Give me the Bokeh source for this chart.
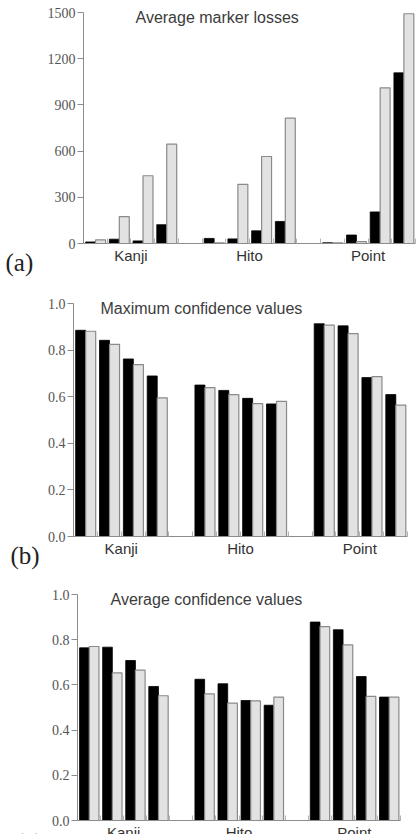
from bokeh.plotting import figure
from bokeh.layouts import column
from bokeh.models import Range1d, FixedTicker, Label, ColumnDataSource
from bokeh.embed import file_html
from bokeh.resources import INLINE

# ---- data -------------------------------------------------------------
groups = ["Kanji", "Hito", "Point"]
pairs_per_group = 4

# (a) average marker losses, four condition pairs per gesture group
loss_black = [10, 28, 17, 122, 33, 30, 82, 143, 5, 55, 205, 1108]
loss_gray = [24, 174, 440, 645, 5, 384, 565, 814, 4, 12, 1011, 1492]

# (b) maximum confidence values
maxconf_black = [0.885, 0.842, 0.762, 0.689, 0.650, 0.627, 0.593, 0.569, 0.913, 0.904, 0.682, 0.609]
maxconf_gray = [0.881, 0.825, 0.738, 0.595, 0.639, 0.609, 0.570, 0.580, 0.907, 0.871, 0.686, 0.564]

# (c) average confidence values
avgconf_black = [0.764, 0.767, 0.708, 0.593, 0.625, 0.605, 0.531, 0.510, 0.878, 0.844, 0.637, 0.546]
avgconf_gray = [0.770, 0.653, 0.665, 0.552, 0.560, 0.519, 0.529, 0.546, 0.858, 0.777, 0.549, 0.546]

loss_ticks = [0, 300, 600, 900, 1200, 1500]
conf_ticks = [0.0, 0.2, 0.4, 0.6, 0.8, 1.0]
conf_tick_labels = ["0.0", "0.2", "0.4", "0.6", "0.8", "1.0"]

# ---- layout helpers ---------------------------------------------------
W = 418
N_SLOTS = len(groups) * (pairs_per_group + 1) - 1   # one empty slot between groups
BAR_W = 0.42
AXIS_GRAY = "#8c8c8c"


def slot_starts():
    return [g * (pairs_per_group + 1) + k
            for g in range(len(groups)) for k in range(pairs_per_group)]


def panel(title, tag, black, gray, ymax, yticks, ytick_labels,
          height, box, title_px, tag_px):
    # box = pixel edges (left, right, top, bottom) of the bar area on the canvas;
    # the frame fills the whole canvas and the axes are pinned at x=0 / y=0
    left, right, top, bottom = box
    xpx = (right - left) / N_SLOTS
    ypx = (bottom - top) / ymax
    p = figure(width=W, height=height,
               x_range=Range1d(-left / xpx, N_SLOTS + (W - right) / xpx),
               y_range=Range1d(-(height - bottom) / ypx, ymax + top / ypx),
               output_backend="svg", toolbar_location=None, min_border=0)
    p.outline_line_color = None
    p.grid.visible = False
    p.background_fill_color = "white"
    p.border_fill_color = "white"

    starts = slot_starts()
    src = ColumnDataSource(dict(
        xb=[s + 0.30 for s in starts],
        xg=[s + 0.72 for s in starts],
        black=black, gray=gray))
    p.vbar(x="xb", top="black", bottom=0, width=BAR_W, source=src,
           fill_color="black", line_color="black", line_width=0.8)
    p.vbar(x="xg", top="gray", bottom=0, width=BAR_W, source=src,
           fill_color="#e2e2e2", line_color="#8a8a8a", line_width=1.2)

    # y axis: gray spine with outward ticks and serif numbers
    ya = p.yaxis[0]
    ya.fixed_location = 0
    ya.bounds = (0, ymax)
    ya.ticker = FixedTicker(ticks=yticks, minor_ticks=[])
    if ytick_labels is not None:
        ya.major_label_overrides = {t: lab for t, lab in zip(yticks, ytick_labels)}
    ya.axis_line_color = AXIS_GRAY
    ya.major_tick_line_color = AXIS_GRAY
    ya.major_tick_out = 6
    ya.major_tick_in = 0
    ya.major_label_standoff = 2
    ya.major_label_text_font = "Liberation Serif"
    ya.major_label_text_font_size = "14px"
    ya.major_label_text_color = "#555555"

    # x axis: baseline, short inward marks between slots, group names
    xa = p.xaxis[0]
    xa.fixed_location = 0
    xa.bounds = (0, N_SLOTS)
    centers = [g * (pairs_per_group + 1) + pairs_per_group / 2 for g in range(len(groups))]
    xa.ticker = FixedTicker(ticks=centers, minor_ticks=list(range(N_SLOTS + 1)))
    xa.major_label_overrides = {c: name for c, name in zip(centers, groups)}
    xa.axis_line_color = AXIS_GRAY
    xa.major_tick_in = 0
    xa.major_tick_out = 0
    xa.minor_tick_in = 5
    xa.minor_tick_out = 0
    xa.minor_tick_line_color = "#b4b4b4"
    xa.major_label_standoff = 3
    xa.major_label_text_font = "Liberation Sans"
    xa.major_label_text_font_size = "15px"
    xa.major_label_text_color = "#333333"

    def to_data(px, py):
        return (px - left) / xpx, (bottom - py) / ypx

    tx, ty = to_data(*title_px)
    p.add_layout(Label(x=tx, y=ty, text=title, text_font="Liberation Sans",
                       text_font_size="16px", text_color="#3c3c3c",
                       text_baseline="middle", text_align="left"))
    gx, gy = to_data(*tag_px)
    p.add_layout(Label(x=gx, y=gy, text=tag, text_font="Liberation Serif",
                       text_font_size="25px", text_color="#222222",
                       text_baseline="middle", text_align="left"))
    return p


pa = panel("Average marker losses", "(a)", loss_black, loss_gray, 1500,
           loss_ticks, None, height=285, box=(83, 415, 12, 243),
           title_px=(135, 17), tag_px=(5, 262))
pb = panel("Maximum confidence values", "(b)", maxconf_black, maxconf_gray, 1.0,
           conf_ticks, conf_tick_labels, height=290, box=(73, 407, 18, 251),
           title_px=(100, 23), tag_px=(10, 270))
pc = panel("Average confidence values", "(c)", avgconf_black, avgconf_gray, 1.0,
           conf_ticks, conf_tick_labels, height=259, box=(77, 400, 19, 245),
           title_px=(110, 24), tag_px=(15, 267))

layout = column(pa, pb, pc, spacing=0)
open("out.html", "w").write(file_html(layout, INLINE))
